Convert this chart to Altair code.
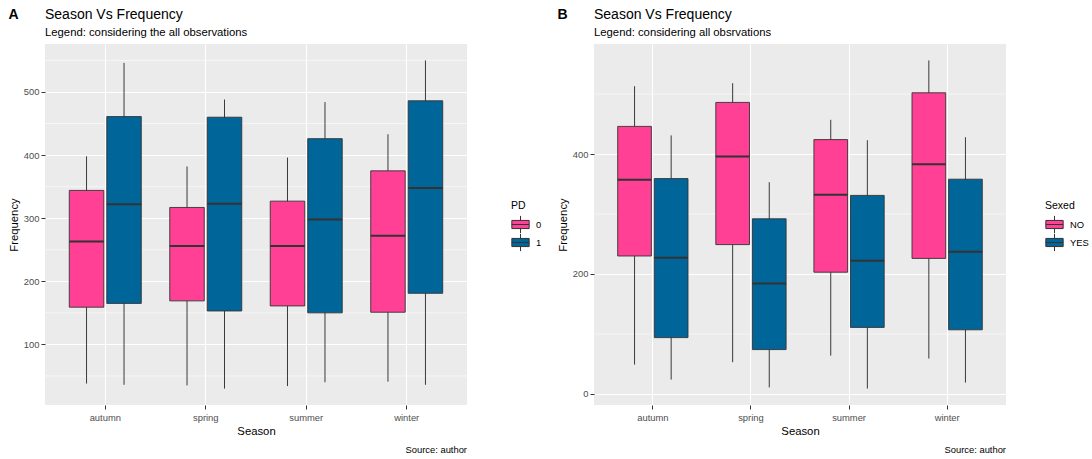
import altair as alt
import pandas as pd

FONT = "Liberation Sans"

seasons = ["autumn", "spring", "summer", "winter"]

# Panel A: PD groups
pd_groups = ["0", "1"]
pd0_low = [38, 35, 34, 41]
pd0_q1 = [159, 169, 161, 151]
pd0_median = [263, 256, 256, 272]
pd0_q3 = [344, 317, 327, 375]
pd0_high = [398, 382, 396, 433]

pd1_low = [36, 30, 40, 36]
pd1_q1 = [165, 153, 150, 181]
pd1_median = [322, 323, 298, 348]
pd1_q3 = [461, 460, 426, 486]
pd1_high = [546, 488, 484, 550]

# Panel B: Sexed groups
sx_groups = ["NO", "YES"]
no_low = [49, 53, 64, 59]
no_q1 = [230, 249, 203, 226]
no_median = [357, 396, 332, 383]
no_q3 = [446, 486, 424, 502]
no_high = [513, 518, 457, 556]

yes_low = [24, 11, 9, 19]
yes_q1 = [94, 74, 111, 107]
yes_median = [227, 184, 222, 237]
yes_q3 = [359, 292, 331, 358]
yes_high = [431, 353, 423, 428]

colors = ["#FF4094", "#006599"]

a_major = [100, 200, 300, 400, 500]
a_minor = [50, 150, 250, 350, 450, 550]
b_major = [0, 200, 400]
b_minor = [100, 300, 500]

title_text = "Season Vs Frequency"
subtitle_a = "Legend: considering the all observations"
subtitle_b = "Legend: considering all obsrvations"
caption_text = "Source: author"


def make_df(groups, stats):
    rows = []
    for g, (low, q1, med, q3, high) in zip(groups, stats):
        for i, s in enumerate(seasons):
            rows.append({"season": s, "group": g, "low": low[i], "q1": q1[i],
                         "median": med[i], "q3": q3[i], "high": high[i]})
    return pd.DataFrame(rows)


df_a = make_df(pd_groups, [(pd0_low, pd0_q1, pd0_median, pd0_q3, pd0_high),
                           (pd1_low, pd1_q1, pd1_median, pd1_q3, pd1_high)])
df_b = make_df(sx_groups, [(no_low, no_q1, no_median, no_q3, no_high),
                           (yes_low, yes_q1, yes_median, yes_q3, yes_high)])

KEY_PATH = ("M-1,-0.47L1,-0.47L1,0.47L-1,0.47Z M-1,0L1,0 "
            "M0,-0.47L0,-1 M0,0.47L0,1")

H = 361


def text_layer(txt, x, y, size, align="left", weight="normal"):
    return alt.Chart(pd.DataFrame({"t": [txt]})).mark_text(
        align=align, baseline="alphabetic", fontSize=size, fontWeight=weight,
        font=FONT, color="black").encode(text="t:N", x=alt.value(x), y=alt.value(y))


def panel(df, groups, legend_title, subtitle, tag, width, major, minor, legend_x):
    lo = min(df["low"])
    hi = max(df["high"])
    pad = 0.05 * (hi - lo)
    yscale = alt.Scale(domain=[lo - pad, hi + pad], nice=False, zero=False)
    yaxis = alt.Axis(values=major, title="Frequency", domain=False, tickColor="#333333",
                     tickSize=4, labelPadding=2, labelColor="#4D4D4D", labelFontSize=9.4,
                     titleFontSize=11.3, titleColor="black", titleFontWeight="normal",
                     titlePadding=4, gridColor="white", gridWidth=1.1, labelFont=FONT,
                     titleFont=FONT)
    xaxis = alt.Axis(title="Season", labelAngle=0, domain=False, tickColor="#333333",
                     tickSize=4, labelPadding=4, labelColor="#4D4D4D", labelFontSize=9.4,
                     titleFontSize=11.3, titleColor="black", titleFontWeight="normal",
                     titlePadding=4.5, gridColor="white", gridWidth=1.1, grid=True,
                     labelFont=FONT, titleFont=FONT)
    xenc = alt.X("season:N", sort=seasons, scale=alt.Scale(paddingInner=0, paddingOuter=0.1),
                 axis=xaxis, title="Season")
    xoff = alt.XOffset("group:N", sort=groups,
                       scale=alt.Scale(paddingInner=0.08, paddingOuter=0.38))

    minor_layer = alt.Chart(pd.DataFrame({"v": minor})).mark_rule(
        color="white", strokeWidth=0.55).encode(
        y=alt.Y("v:Q", scale=yscale, axis=yaxis, title="Frequency"))

    base = alt.Chart(df).encode(x=xenc, xOffset=xoff)

    whisk = base.mark_rule(color="#3a3a3a", strokeWidth=1).encode(
        y=alt.Y("low:Q", scale=yscale, axis=yaxis, title="Frequency"), y2="high:Q")

    box = base.mark_bar(stroke="#333333", strokeWidth=0.9).encode(
        y=alt.Y("q1:Q", scale=yscale, axis=yaxis, title="Frequency"), y2="q3:Q",
        color=alt.Color("group:N", sort=groups,
                        scale=alt.Scale(domain=groups, range=colors),
                        legend=alt.Legend(title=legend_title, orient="none",
                                          legendX=legend_x, legendY=157,
                                          symbolType=KEY_PATH, symbolSize=300,
                                          symbolStrokeColor="#333333",
                                          symbolStrokeWidth=1, symbolOpacity=1,
                                          titleFontSize=10.5, titleFontWeight="normal",
                                          titleColor="black", titleFont=FONT,
                                          titlePadding=4, labelFontSize=9.4,
                                          labelColor="black", labelFont=FONT,
                                          labelOffset=6, rowPadding=0, clipHeight=18,
                                          padding=0)))

    med = base.mark_bar(fill="transparent", stroke="#333333", strokeWidth=2).encode(
        y=alt.Y("median:Q", scale=yscale, axis=yaxis, title="Frequency"), y2="median:Q")

    tag_layer = text_layer(tag, -36.5, -25.5, 14, weight="bold")
    title_layer = text_layer(title_text, 0, -25.5, 14)
    sub_layer = text_layer(subtitle, 0, -8, 11.3)
    cap_layer = text_layer(caption_text, width, H + 48, 9.4, align="right")

    return alt.layer(minor_layer, whisk, box, med, tag_layer, title_layer, sub_layer,
                     cap_layer).properties(width=width, height=H)


left = panel(df_a, pd_groups, "PD", subtitle_a, "A", 422, a_major, a_minor, 466)
right = panel(df_b, sx_groups, "Sexed", subtitle_b, "B", 412, b_major, b_minor, 451)

chart = alt.hconcat(left, right, spacing=127, bounds="flush").resolve_scale(
    x="independent", y="independent", color="independent", xOffset="independent"
).resolve_legend(color="independent").configure_view(
    fill="#EBEBEB", stroke=None
).properties(
    padding={"left": 8, "top": 7, "right": 2, "bottom": 0}, background="white"
)

chart.save("out.html", embed_options={"renderer": "svg", "actions": False})
